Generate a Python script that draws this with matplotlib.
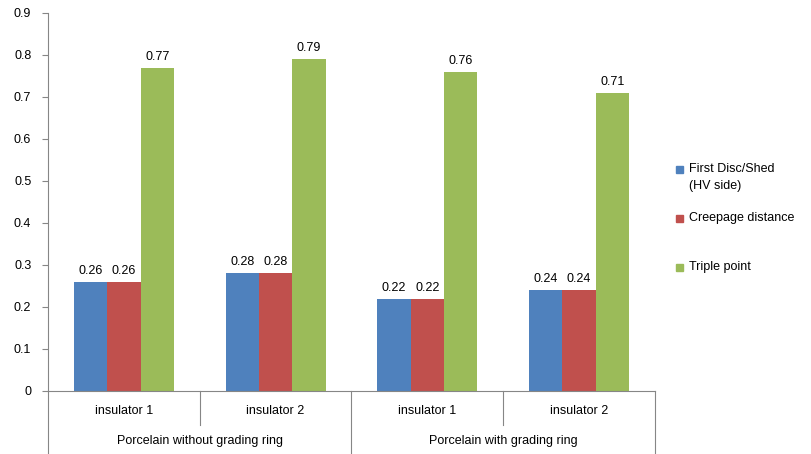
import matplotlib.pyplot as plt
import matplotlib.transforms as mtransforms
from matplotlib.patches import Rectangle
import numpy as np

plt.rcParams["font.family"] = ["Liberation Sans", "DejaVu Sans"]

sub_labels = ["insulator 1", "insulator 2", "insulator 1", "insulator 2"]
group_labels = ["Porcelain without grading ring", "Porcelain with grading ring"]
series_names = ["First Disc/Shed\n(HV side)", "Creepage distance", "Triple point"]
first_disc = [0.26, 0.28, 0.22, 0.24]
creepage = [0.26, 0.28, 0.22, 0.24]
triple = [0.77, 0.79, 0.76, 0.71]
colors = ["#4F81BD", "#C0504D", "#9BBB59"]

axis_col = "#868686"
txt_col = "#000000"

W, H = 811, 454
fig = plt.figure(figsize=(W / 100, H / 100), dpi=100)
ax = fig.add_axes([0.0592, 0.1388, 0.7484, 0.8326])

x = np.arange(len(sub_labels))
w = 0.22
for k, vals in enumerate([first_disc, creepage, triple]):
    pos = x + (k - 1) * w
    ax.bar(pos, vals, w, color=colors[k])
    for p, v in zip(pos, vals):
        ax.text(p, v + 0.012, f"{v:.2f}", ha="center", va="bottom",
                fontsize=9, color=txt_col)

ax.set_xlim(-0.5, 3.5)
ax.set_ylim(0, 0.9)
ax.set_yticks(np.arange(0, 0.91, 0.1))
ax.set_yticklabels(["0"] + [f"{t:.1f}" for t in np.arange(0.1, 0.91, 0.1)])
ax.tick_params(axis="y", length=4, color=axis_col, labelsize=9, pad=8)
ax.set_xticks([])
for s in ["top", "right"]:
    ax.spines[s].set_visible(False)
ax.spines["left"].set_color(axis_col)
ax.spines["bottom"].set_color(axis_col)

# two-level category axis
tr = mtransforms.blended_transform_factory(ax.transData, ax.transAxes)
for xs in [0.5, 2.5]:
    ax.plot([xs, xs], [0, -0.09], color=axis_col, lw=0.8, transform=tr, clip_on=False)
for xs in [-0.5, 1.5, 3.5]:
    ax.plot([xs, xs], [0, -0.17], color=axis_col, lw=0.8, transform=tr, clip_on=False)
for xi, lab in zip(x, sub_labels):
    ax.text(xi, -0.053, lab, ha="center", va="center", fontsize=9,
            color=txt_col, transform=tr)
for gi, lab in enumerate(group_labels):
    ax.text(0.5 + 2 * gi, -0.132, lab, ha="center", va="center", fontsize=9,
            color=txt_col, transform=tr)

# legend, placed by hand like the Excel one
leg_y = [170, 218, 267]
for name, col, yp in zip(series_names, colors, leg_y):
    fig.patches.append(Rectangle((676 / W, 1 - (yp + 3.5) / H), 7 / W, 7 / H,
                                 transform=fig.transFigure, color=col))
    if "\n" in name:
        fig.text(689 / W, 1 - (yp - 7) / H, name, fontsize=9, color=txt_col,
                 ha="left", va="top", linespacing=1.6)
    else:
        fig.text(689 / W, 1 - yp / H, name, fontsize=9, color=txt_col,
                 ha="left", va="center")

fig.savefig("out.png", dpi=100)
